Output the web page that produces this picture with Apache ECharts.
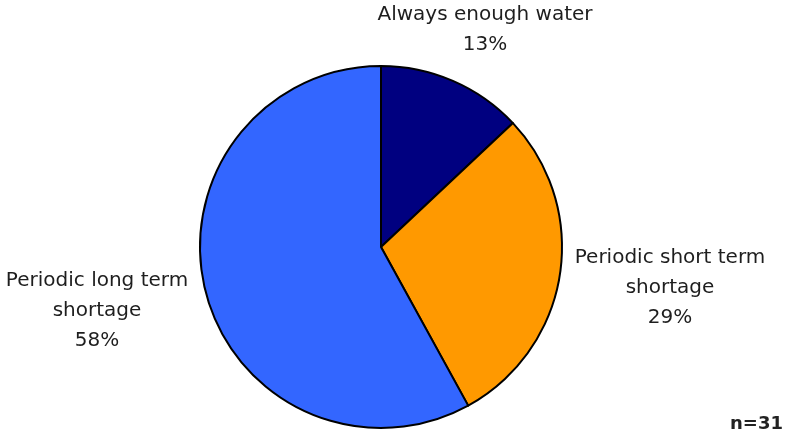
<!DOCTYPE html>
<html><head><meta charset="utf-8">
<script src="https://cdn.jsdelivr.net/npm/echarts@6/dist/echarts.min.js"></script>
<style>html,body{margin:0;padding:0;background:#fff}#c{width:791px;height:437px}</style>
</head><body><div id="c"></div>
<script>
const categories = ['Always enough water', 'Periodic short term\nshortage', 'Periodic long term\nshortage'];
const values = [13, 29, 58];
const colors = ['#000080', '#FF9900', '#3366FF'];
const sampleNote = 'n=31';
const labelSpots = [[485, 30], [670, 288], [97, 311]];

const chart = echarts.init(document.getElementById('c'), null, {renderer: 'canvas'});
chart.setOption({
  animation: false,
  graphic: [{type: 'text', right: 8, bottom: 4, style: {text: sampleNote, font: 'bold 18px "DejaVu Sans"', fill: '#222'}}],
  series: [{
    type: 'pie',
    center: [381, 247],
    radius: 181,
    startAngle: 90,
    clockwise: true,
    data: categories.map((n, i) => ({name: n, value: values[i], itemStyle: {color: colors[i]}})),
    itemStyle: {borderColor: '#000', borderWidth: 2},
    label: {
      show: true, position: 'outside', overflow: 'none', width: 260,
      formatter: p => p.name + '\n' + p.value + '%',
      fontFamily: 'DejaVu Sans', fontSize: 20, lineHeight: 30, color: '#1e1e1e', align: 'center'
    },
    labelLine: {show: false},
    labelLayout: p => ({x: labelSpots[p.dataIndex][0], y: labelSpots[p.dataIndex][1], align: 'center', verticalAlign: 'middle', hideOverlap: false})
  }]
});
</script></body></html>
